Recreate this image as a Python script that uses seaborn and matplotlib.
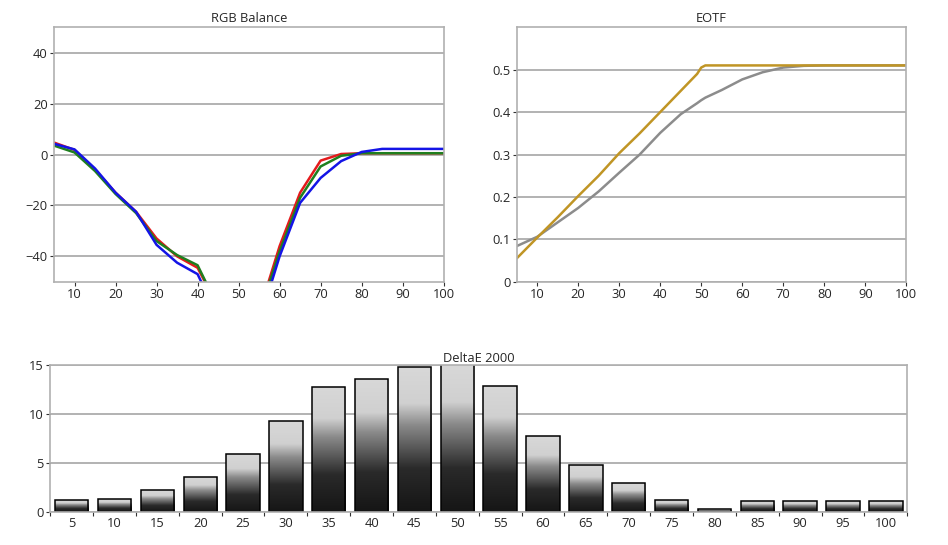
import numpy as np
import pandas as pd
import seaborn as sns
import matplotlib.pyplot as plt
from matplotlib.colors import LinearSegmentedColormap

# ---------- data ---------- #
levels = [5, 10, 15, 20, 25, 30, 35, 40, 45, 50, 55, 60, 65, 70, 75, 80, 85, 90, 95, 100]

rgb_red   = [4.7, 1.8, -6, -15, -22.5, -33, -40, -44.5, -60, -75, -62, -36, -15, -2.4, 0.2, 0.5, 0.5, 0.5, 0.5, 0.5]
rgb_green = [3.5, 0.8, -6.5, -15.5, -23, -34, -39.5, -43.5, -60, -75, -63, -38, -17, -4.7, -0.5, 0.5, 0.5, 0.5, 0.5, 0.5]
rgb_blue  = [4.2, 2.0, -5.5, -15, -22.5, -35.5, -42.5, -47, -64, -78, -66, -40, -19, -9.2, -2.6, 1.0, 2.2, 2.2, 2.2, 2.2]

eotf_x      = [5, 10, 15, 20, 25, 30, 35, 40, 45, 49, 50, 51, 55, 60, 65, 70, 75, 80, 85, 90, 95, 100]
eotf_target = [0.055, 0.104, 0.152, 0.202, 0.25, 0.303, 0.35, 0.40, 0.45, 0.49, 0.505, 0.51, 0.51, 0.51, 0.51, 0.51,
               0.51, 0.51, 0.51, 0.51, 0.51, 0.51]
eotf_meas   = [0.084, 0.106, 0.14, 0.174, 0.213, 0.257, 0.30, 0.351, 0.395, 0.421, 0.428, 0.434, 0.452, 0.477,
               0.494, 0.505, 0.509, 0.51, 0.51, 0.51, 0.51, 0.51]

delta_e = [1.2, 1.3, 2.2, 3.6, 5.9, 9.25, 12.75, 13.6, 14.8, 15.4, 12.9, 7.7, 4.8, 2.95, 1.2, 0.3, 1.05, 1.05, 1.05, 1.05]

# ---------- style ---------- #
sns.set_style('white')
plt.rcParams['font.family'] = ['Open Sans', 'DejaVu Sans']
FS = 9.3

GRID = '#a6a6a6'


def style_axes(ax):
    for s in ax.spines.values():
        s.set_color('#b0b0b0')
        s.set_linewidth(1.2)
    ax.grid(axis='y', color=GRID, linewidth=1.2)
    ax.grid(axis='x', visible=False)
    ax.set_axisbelow(True)
    ax.tick_params(axis='both', which='major', direction='out', length=3, width=0.8,
                   color='#333333', labelsize=FS, pad=1.5, left=True, bottom=True)
    ax.set_xlabel('')
    ax.set_ylabel('')


fig = plt.figure(figsize=(9.48, 5.45), dpi=100)

# ---------- RGB Balance ---------- #
ax1 = fig.add_axes([0.057, 0.483, 0.411, 0.467])
rgb_df = pd.DataFrame({'x': levels * 3,
                       'v': rgb_red + rgb_green + rgb_blue,
                       'c': ['R'] * 20 + ['G'] * 20 + ['B'] * 20})
sns.lineplot(data=rgb_df, x='x', y='v', hue='c', hue_order=['R', 'G', 'B'],
             palette={'R': '#e41a1c', 'G': '#1f7f1f', 'B': '#1414e6'},
             linewidth=1.8, legend=False, ax=ax1)
ax1.set_xlim(5, 100)
ax1.set_ylim(-50, 50)
ax1.set_yticks([-40, -20, 0, 20, 40])
ax1.set_xticks(range(10, 101, 10))
ax1.set_title('RGB Balance', fontsize=FS, pad=4)
style_axes(ax1)

# ---------- EOTF ---------- #
ax2 = fig.add_axes([0.545, 0.483, 0.411, 0.467])
eotf_df = pd.DataFrame({'x': eotf_x * 2,
                        'v': eotf_meas + eotf_target,
                        'c': ['meas'] * len(eotf_x) + ['target'] * len(eotf_x)})
sns.lineplot(data=eotf_df, x='x', y='v', hue='c', hue_order=['meas', 'target'],
             palette={'meas': '#8c8c8c', 'target': '#c09525'},
             linewidth=1.8, legend=False, ax=ax2)
ax2.set_xlim(5, 100)
ax2.set_ylim(0, 0.6)
ax2.set_yticks([0, 0.1, 0.2, 0.3, 0.4, 0.5])
ax2.set_yticklabels(['0', '0.1', '0.2', '0.3', '0.4', '0.5'])
ax2.set_xticks(range(10, 101, 10))
ax2.set_title('EOTF', fontsize=FS, pad=4)
style_axes(ax2)

# ---------- DeltaE 2000 ---------- #
YMAX = 15
ax3 = fig.add_axes([0.053, 0.061, 0.904, 0.269])
de_df = pd.DataFrame({'level': [str(l) for l in levels], 'de': delta_e})
sns.barplot(data=de_df, x='level', y='de', color='#888888', width=0.78,
            edgecolor='black', linewidth=1.1, ax=ax3)
ax3.set_ylim(0, YMAX)
ax3.set_xlim(-0.5, len(levels) - 0.5)
ax3.set_yticks([0, 5, 10, 15])
ax3.set_title('DeltaE 2000', fontsize=FS, pad=0)
style_axes(ax3)
ax3.tick_params(axis='x', which='major', length=0, pad=4)
ax3.set_xticks(np.arange(-0.5, len(levels), 1.0), minor=True)
ax3.tick_params(axis='x', which='minor', direction='out', length=3, width=0.8, color='#333333', bottom=True)

# gradient fill clipped to each bar
grad_cmap = LinearSegmentedColormap.from_list(
    'bar', [(0.0, '#151515'), (0.3, '#2a2a2a'), (0.6, '#8a8a8a'), (0.75, '#d0d0d0'), (1.0, '#d8d8d8')])
grad = np.linspace(0, 1, 256).reshape(-1, 1)
for p in ax3.patches:
    x0, y0 = p.get_x(), p.get_y()
    w, h = p.get_width(), p.get_height()
    p.set_facecolor('none')
    im = ax3.imshow(grad, cmap=grad_cmap, origin='lower', aspect='auto',
                    extent=[x0, x0 + w, y0, min(y0 + h, YMAX)], zorder=p.get_zorder() - 0.1)
    im.set_clip_path(p)
ax3.set_xlim(-0.5, len(levels) - 0.5)
ax3.set_ylim(0, YMAX)

fig.savefig('out.png', dpi=100)
